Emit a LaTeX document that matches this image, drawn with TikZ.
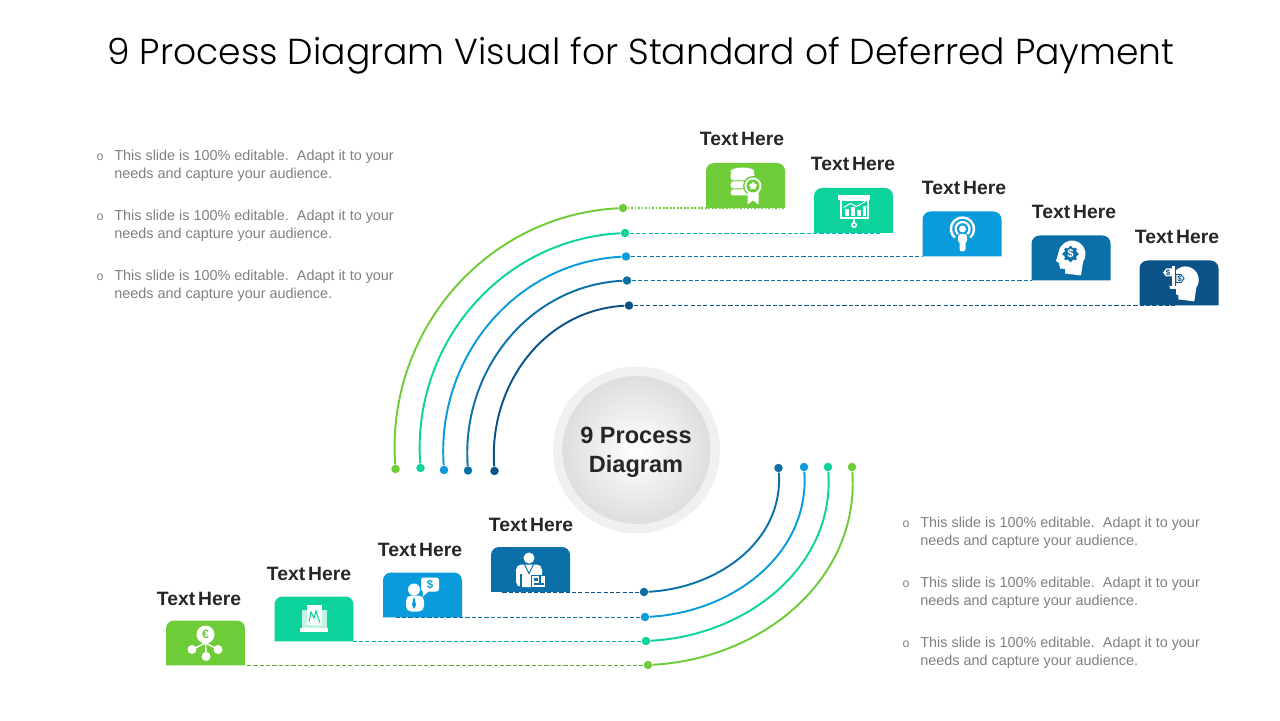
\documentclass[tikz,border=0pt]{standalone}
\usepackage{fontspec}
\setmainfont{Liberation Sans}
\newfontfamily\titlefont{Poppins Light}
\usetikzlibrary{shapes.geometric}
\definecolor{barGreen}{HTML}{6DCC37}
\definecolor{barTeal}{HTML}{0CD39B}
\definecolor{barBlue}{HTML}{0A9BDC}
\definecolor{barMid}{HTML}{0B6FA8}
\definecolor{barNavy}{HTML}{0B5287}
\definecolor{bodyGrey}{HTML}{7F7F7F}
\definecolor{inkDark}{HTML}{262626}
\tikzset{
  tabbox/.style={minimum width=1.58cm,minimum height=0.9cm,inner sep=0pt,outer sep=0pt},
  dot/.style={circle,inner sep=0pt,minimum size=0.17cm},
  arcline/.style={line width=1.1pt},
  leader/.style={line width=0.55pt,dash pattern=on 2.4pt off 1.2pt},
  tabtitle/.style={font=\fontsize{11}{13}\selectfont\bfseries,text=inkDark},
  bodytext/.style={font=\fontsize{8.2}{10.2}\selectfont,text=bodyGrey,align=left,anchor=west,inner sep=0pt},
  bulletmark/.style={font=\fontsize{7}{8}\selectfont,text=bodyGrey,inner sep=0pt}
}
\newcommand{\headshape}{(-15,-3) -- (-12.3,6.3) arc (170:-35:13.5) -- (10,-17.5) -- (-6,-15.5) -- (-6,-11) -- (-11,-10.5) -- (-12,-5) -- cycle}
\newcommand{\tabfill}[2]{\fill[#2] (#1.south west) [rounded corners=0.16cm] -- (#1.north west) -- (#1.north east) [sharp corners] -- (#1.south east) -- cycle;}
\begin{document}
\begin{tikzpicture}[x=0.02cm,y=0.02cm]
\useasboundingbox (0,0) rectangle (1280,720);
% Title
\node[font=\titlefont\fontsize{20.55}{24}\selectfont,text=black] (title) at (641,664) {9 Process Diagram Visual for Standard of Deferred Payment};

% Centre circle
\node[circle,fill=black!6,minimum size=3.34cm,inner sep=0pt] (ring) at (636.5,270) {};
\node[circle,inner color=white,outer color=black!13,minimum size=2.96cm,inner sep=0pt] (hub) at (636.5,270) {};
\node[align=center,text=inkDark,font=\fontsize{13.4}{16.5}\selectfont\bfseries] (hubtext) at (636,268) {9 Process\\Diagram};

% Top tabs
\node[tabbox] (tabA) at (745.5,534.5) {};
\tabfill{tabA}{barGreen}
\node[tabbox] (tabB) at (853.5,509.5) {};
\tabfill{tabB}{barTeal}
\node[tabbox] (tabC) at (962,486) {};
\tabfill{tabC}{barBlue}
\node[tabbox] (tabD) at (1071,462) {};
\tabfill{tabD}{barMid}
\node[tabbox] (tabE) at (1179,437) {};
\tabfill{tabE}{barNavy}

% Bottom tabs
\node[tabbox] (tabF) at (205.5,77) {};
\tabfill{tabF}{barGreen}
\node[tabbox] (tabG) at (314,101) {};
\tabfill{tabG}{barTeal}
\node[tabbox] (tabH) at (422.5,125) {};
\tabfill{tabH}{barBlue}
\node[tabbox] (tabI) at (530.5,150.5) {};
\tabfill{tabI}{barMid}

% Tab labels
\node[tabtitle] (textA) at (742,581) {Text\hspace{1.6pt}Here};
\node[tabtitle] (textB) at (853,556) {Text\hspace{1.6pt}Here};
\node[tabtitle] (textC) at (964,532) {Text\hspace{1.6pt}Here};
\node[tabtitle] (textD) at (1074,508) {Text\hspace{1.6pt}Here};
\node[tabtitle] (textE) at (1177,483) {Text\hspace{1.6pt}Here};
\node[tabtitle] (textF) at (199,121) {Text\hspace{1.6pt}Here};
\node[tabtitle] (textG) at (309,146) {Text\hspace{1.6pt}Here};
\node[tabtitle] (textH) at (420,170) {Text\hspace{1.6pt}Here};
\node[tabtitle] (textI) at (531,195) {Text\hspace{1.6pt}Here};

% Upper arcs
\node[dot,fill=barGreen] (topA) at (623,512) {};
\node[dot,fill=barGreen] (endA) at (395.5,251) {};
\draw[arcline,barGreen] (topA) to[out=183,in=94] (endA);
\node[dot,fill=barTeal] (topB) at (625,487) {};
\node[dot,fill=barTeal] (endB) at (420.5,252) {};
\draw[arcline,barTeal] (topB) to[out=183,in=94] (endB);
\node[dot,fill=barBlue] (topC) at (626,463.5) {};
\node[dot,fill=barBlue] (endC) at (444,250) {};
\draw[arcline,barBlue] (topC) to[out=183,in=94] (endC);
\node[dot,fill=barMid] (topD) at (627,439.5) {};
\node[dot,fill=barMid] (endD) at (468,249.5) {};
\draw[arcline,barMid] (topD) to[out=183,in=94] (endD);
\node[dot,fill=barNavy] (topE) at (629,414.5) {};
\node[dot,fill=barNavy] (endE) at (494.5,249) {};
\draw[arcline,barNavy] (topE) to[out=183,in=94] (endE);

% Lower arcs
\node[dot,fill=barGreen] (topF) at (648,55) {};
\node[dot,fill=barGreen] (endF) at (852,253) {};
\draw[arcline,barGreen] (topF) to[out=3,in=274] (endF);
\node[dot,fill=barTeal] (topG) at (646,79) {};
\node[dot,fill=barTeal] (endG) at (828,253) {};
\draw[arcline,barTeal] (topG) to[out=3,in=274] (endG);
\node[dot,fill=barBlue] (topH) at (645,103) {};
\node[dot,fill=barBlue] (endH) at (804,253) {};
\draw[arcline,barBlue] (topH) to[out=3,in=274] (endH);
\node[dot,fill=barMid] (topI) at (644,128) {};
\node[dot,fill=barMid] (endI) at (778.5,252) {};
\draw[arcline,barMid] (topI) to[out=3,in=274] (endI);

% Leaders
\coordinate (stopB) at (880,487);
\coordinate (stopE) at (1175,414.5);
\coordinate (stopH) at (394,103);
\coordinate (stopI) at (502,128);
\draw[line width=0.7pt,barGreen,dash pattern=on 1pt off 1pt] (topA) -- (topA -| tabA.south east);
\draw[leader,barBlue!60!barTeal] (topB) -- (stopB);
\draw[leader,barMid] (topC) -- (topC -| tabC.south west);
\draw[leader,barMid] (topD) -- (topD -| tabD.south west);
\draw[leader,barNavy] (topE) -- (stopE);
\draw[leader,barGreen!85!black] (topF) -- (topF -| tabF.south east);
\draw[leader,barBlue!70!barTeal] (topG) -- (topG -| tabG.south east);
\draw[leader,barMid] (topH) -- (stopH);
\draw[leader,barNavy] (topI) -- (stopI);

% Icon A: database with rosette
\begin{scope}[shift={(tabA.center)}]
\fill[white] (-3,14) ellipse (12 and 4);
\fill[white,rounded corners=1.5pt] (-15,13) rectangle (9,5);
\fill[white,rounded corners=1.5pt] (-15,4) rectangle (9,-3);
\fill[white,rounded corners=1.5pt] (-15,-4) rectangle (9,-10);
\fill[barGreen] (7.5,-0.5) circle (10);
\fill[white] (2,-6) -- (2,-19) -- (7.5,-15) -- (13,-19) -- (13,-6) -- cycle;
\fill[white] (7.5,-0.5) circle (8.5);
\fill[barGreen] (7.5,-0.5) circle (6.5);
\node[star,star points=5,fill=white,inner sep=0pt,minimum size=0.17cm] (starA) at (7.5,-0.5) {};
\end{scope}

% Icon B: chart on a board
\begin{scope}[shift={(tabB.center)}]
\fill[white] (-15.5,15.5) rectangle (16.5,10.5);
\draw[white,line width=1.1pt] (-12.5,10.5) rectangle (14.5,-7.5);
\fill[white] (-9,-6) rectangle (-5,1);
\fill[white] (-3,-6) rectangle (1,3);
\fill[white] (3,-6) rectangle (7,0);
\fill[white] (9,-6) rectangle (12,4);
\draw[white,line width=0.6pt] (-10,3) -- (-3,7) -- (3,4) -- (12,9);
\draw[white,line width=0.9pt] (0.5,-7.5) -- (0.5,-12);
\draw[white,line width=0.9pt] (0.5,-14.5) circle (2.2);
\end{scope}

% Icon C: broadcasting figure
\begin{scope}[shift={(tabC.center)}]
\draw[white,line width=1.4pt] (0.5,5) ++(-48:11.5) arc (-48:228:11.5);
\draw[white,line width=1.3pt] (0.5,5) ++(-48:7) arc (-48:228:7);
\fill[white] (0.5,5) circle (3.5);
\fill[white,rounded corners=1.5pt] (-4,0) rectangle (5,-9);
\fill[white,rounded corners=1.5pt] (-2.5,-4) rectangle (3.5,-17.5);
\end{scope}

% Icon D: head with gear
\begin{scope}[shift={(tabD.center)}]
\fill[white] \headshape;
\fill[barMid] (-0.5,4) circle (6.5);
\foreach \a in {0,45,...,315} \fill[barMid] (-0.5,4) ++(\a:6.5) circle (1.8);
\node[text=white,inner sep=0pt,font=\fontsize{6.5}{7}\selectfont\bfseries] (signD) at (-0.5,4) {\$};
\end{scope}

% Icon E: head with signpost
\begin{scope}[shift={(tabE.center)}]
\begin{scope}[xshift=3,yshift=-0.5]
\fill[white] \headshape;
\end{scope}
\fill[barNavy] (-9,-18) rectangle (-3.5,20);
\fill[white] (-7,16.5) rectangle (-4,-3.5);
\fill[white] (-9,-3.5) rectangle (-2,-6);
\fill[white] (-7,14.5) -- (-7,6.5) -- (-13,6.5) -- (-16,10.5) -- (-13,14.5) -- cycle;
\node[text=barNavy,inner sep=0pt,font=\fontsize{4.5}{5}\selectfont\bfseries] (signE) at (-11,10.5) {\$};
\draw[barNavy,line width=0.5pt] (-3,8.5) -- (2,8.5) -- (5,4.5) -- (2,0.5) -- (-3,0.5) -- cycle;
\node[text=barNavy,inner sep=0pt,font=\fontsize{4.5}{5}\selectfont\bfseries] (signEb) at (0.5,4.5) {\$};
\end{scope}

% Icon F: euro network
\begin{scope}[shift={(tabF.center)}]
\draw[white,line width=0.8pt] (0,8.5) -- (0.5,-13.5);
\draw[white,line width=0.8pt] (0,0) -- (-13.5,-6.5);
\draw[white,line width=0.8pt] (0,0) -- (12.5,-6.5);
\fill[white] (-13.5,-6.5) circle (4.5);
\fill[white] (12.5,-6.5) circle (4.5);
\fill[white] (0.5,-13.5) circle (4.5);
\fill[white] (0,8.5) circle (9);
\node[text=barGreen,inner sep=0pt,font=\fontsize{7}{8}\selectfont\bfseries] (signF) at (0,8.5) {€};
\end{scope}

% Icon G: laptop with chart
\begin{scope}[shift={(tabG.center)}]
\fill[white,opacity=0.75] (-12,9.5) rectangle (13,-8.5);
\fill[white] (-14,-8.5) rectangle (14,-12.5);
\fill[white] (-7,14) rectangle (8,-6);
\draw[barTeal,line width=0.6pt] (-5,-3) -- (-3,7) -- (0,1) -- (2,8) -- (6,-4);
\end{scope}

% Icon H: figure with speech bubble
\begin{scope}[shift={(tabH.center)}]
\fill[white] (-8.5,5.5) circle (6);
\fill[white,rounded corners=3pt] (-16.5,-0.5) rectangle (1.5,-16.5);
\fill[barBlue] (-8.5,-0.5) -- (-10.5,-10) -- (-8.5,-14) -- (-6.5,-10) -- cycle;
\fill[white] (-10,-0.5) -- (-8.5,-3.5) -- (-7,-0.5) -- cycle;
\fill[white,rounded corners=1.5pt] (-1.5,17.5) rectangle (16.5,3.5);
\fill[white] (0,6) -- (0.5,-1.5) -- (6,3.5) -- cycle;
\node[text=barBlue,inner sep=0pt,font=\fontsize{6.5}{7}\selectfont\bfseries] (signH) at (7.5,10.5) {\$};
\end{scope}

% Icon I: figure with case
\begin{scope}[shift={(tabI.center)}]
\fill[white] (-1.5,11.5) circle (5.5);
\fill[white,rounded corners=3pt] (-14.5,5) rectangle (11.5,-17.5);
\draw[barMid,line width=0.6pt] (-9.5,-4) -- (-9.5,-17.5);
\draw[barMid,line width=0.6pt] (-6,5) -- (-1.5,-4) -- (3,5);
\fill[barMid] (0.5,-5) rectangle (15.5,-18);
\fill[white] (1.5,-6.5) rectangle (14.5,-17.5);
\fill[barMid] (3,-8) rectangle (7,-11);
\fill[barMid] (8.5,-6.5) rectangle (10,-14);
\fill[barMid] (3,-13) rectangle (13,-15);
\end{scope}

% Left notes
\node[bulletmark] (markA) at (100,563) {o};
\node[bodytext] (noteA) at (114,554) {This slide is 100\% editable.\ \ Adapt it to your\\needs and capture your audience.};
\node[bulletmark] (markB) at (100,503) {o};
\node[bodytext] (noteB) at (114,494) {This slide is 100\% editable.\ \ Adapt it to your\\needs and capture your audience.};
\node[bulletmark] (markC) at (100,443) {o};
\node[bodytext] (noteC) at (114,434) {This slide is 100\% editable.\ \ Adapt it to your\\needs and capture your audience.};

% Right notes
\node[bulletmark] (markD) at (906,196) {o};
\node[bodytext] (noteD) at (920,187) {This slide is 100\% editable.\ \ Adapt it to your\\needs and capture your audience.};
\node[bulletmark] (markE) at (906,136) {o};
\node[bodytext] (noteE) at (920,127) {This slide is 100\% editable.\ \ Adapt it to your\\needs and capture your audience.};
\node[bulletmark] (markF) at (906,76) {o};
\node[bodytext] (noteF) at (920,67) {This slide is 100\% editable.\ \ Adapt it to your\\needs and capture your audience.};
\end{tikzpicture}
\end{document}
